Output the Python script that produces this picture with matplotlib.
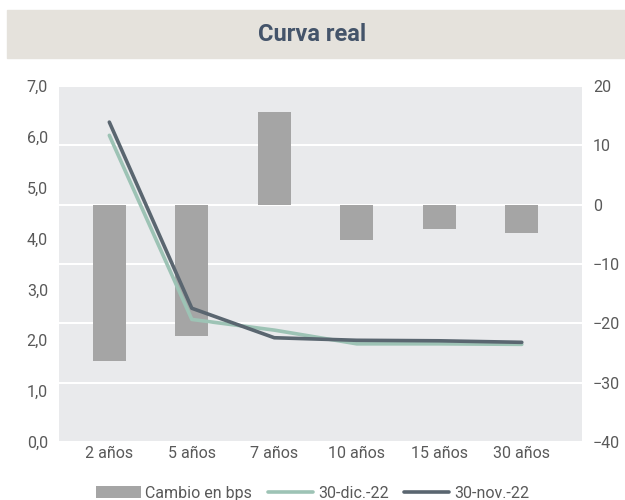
import matplotlib.pyplot as plt
from matplotlib.patches import Rectangle
import numpy as np

plt.rcParams['font.family'] = ['Roboto', 'DejaVu Sans']

plazos = ['2 años', '5 años', '7 años', '10 años', '15 años', '30 años']
cambio_bps = [-26.4, -22.1, 15.6, -6.0, -4.1, -4.7]
dic_22 = [6.03, 2.41, 2.20, 1.93, 1.93, 1.92]
nov_22 = [6.29, 2.63, 2.05, 2.00, 1.99, 1.96]

txt = '#595959'
x = np.arange(len(plazos))

fig = plt.figure(figsize=(6.25, 5), dpi=100)

# title band
fig.patches.append(Rectangle((7/625, 1 - 58/500), 1 - 7/625, 48/500,
                             transform=fig.transFigure, color='#E5E2DC', zorder=0))
fig.text(0.5, 1 - 34/500, 'Curva real', ha='center', va='center',
         fontsize=17, fontweight='bold', color='#44546A')

ax = fig.add_axes([59/625, 1 - 442/500, 523/625, 356/500])
ax2 = ax.twinx()

# bars on right axis, lines on left axis
ax2.bar(x, cambio_bps, width=0.40, color='#A5A5A5', zorder=2, label='Cambio en bps')
ax2.set_ylim(-40, 20)
ax2.set_yticks([-40, -30, -20, -10, 0, 10, 20])
ax2.grid(axis='y', color='white', linewidth=1.5, zorder=1)
ax2.set_axisbelow(True)

ax.set_zorder(ax2.get_zorder() + 1)
ax.patch.set_visible(False)
ax2.patch.set_visible(True)
ax2.patch.set_facecolor('#E9EAEC')

ax.plot(x, dic_22, color='#9DC3B5', linewidth=2.6, label='30-dic.-22', solid_capstyle='round')
ax.plot(x, nov_22, color='#5A6670', linewidth=2.6, label='30-nov.-22', solid_capstyle='round')
ax.set_ylim(0, 7)
ax.set_yticks(np.arange(0, 8, 1))
ax.set_yticklabels([f'{v:.1f}'.replace('.', ',') for v in range(8)])
ax.set_xlim(-0.61, 5.73)
ax.set_xticks(x)
ax.set_xticklabels(plazos)

for a in (ax, ax2):
    for s in a.spines.values():
        s.set_visible(False)
    a.tick_params(length=0, labelsize=11.5, colors=txt, pad=8)
ax.tick_params(axis='x', pad=3)

h1, l1 = ax2.get_legend_handles_labels()
h2, l2 = ax.get_legend_handles_labels()
fig.legend(h1 + h2, l1 + l2, loc='lower center', bbox_to_anchor=(0.5, -0.03),
           ncol=3, frameon=False, fontsize=11.5, labelcolor=txt,
           handlelength=2.8, handletextpad=0.3, columnspacing=1.0)

fig.savefig('out.png', dpi=100, facecolor='white')
